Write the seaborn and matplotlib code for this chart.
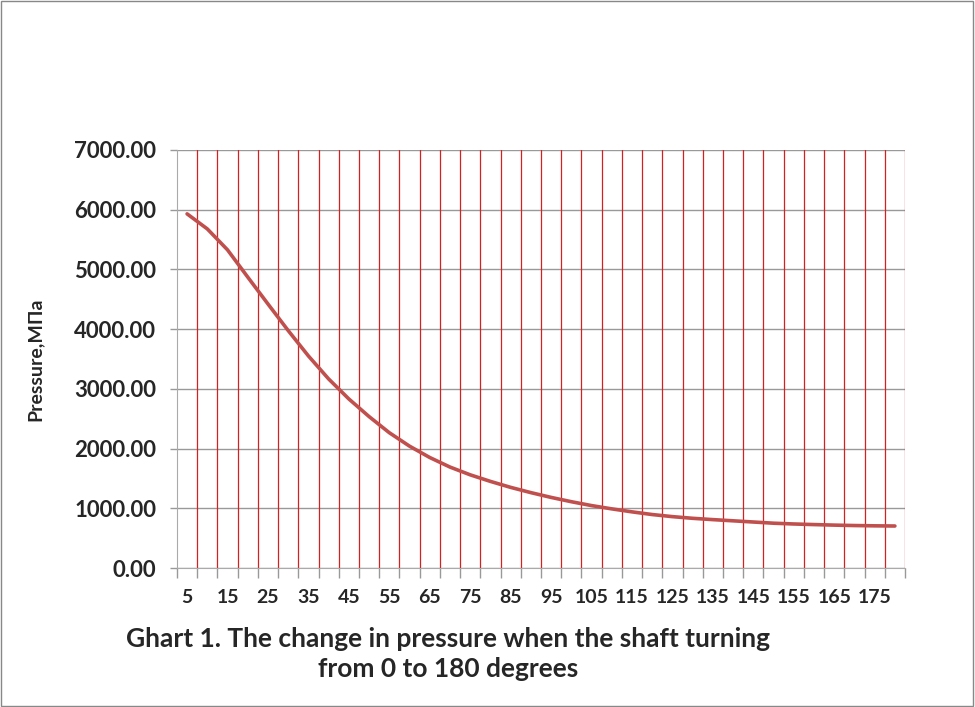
import numpy as np
import pandas as pd
import matplotlib
matplotlib.use("Agg")
import matplotlib.pyplot as plt
import seaborn as sns
from matplotlib.ticker import FixedLocator, FuncFormatter

# shaft angle, degrees
angles = list(range(5, 185, 5))
# pressure, MPa
pressure = [5929, 5677, 5326, 4870, 4420, 3975, 3550, 3165, 2830, 2535,
            2265, 2040, 1850, 1690, 1560, 1450, 1350, 1262, 1182, 1110,
            1045, 990, 940, 895, 860, 832, 810, 790, 770, 750,
            737, 727, 718, 711, 706, 703]
y_ticks = [0, 1000, 2000, 3000, 4000, 5000, 6000, 7000]

df = pd.DataFrame({"angle": [str(a) for a in angles], "pressure": pressure})

sns.set_style("white")
plt.rcParams["font.family"] = ["Lato", "DejaVu Sans"]
plt.rcParams["font.weight"] = "bold"

fig = plt.figure(figsize=(9.75, 7.07), dpi=100)
ax = fig.add_axes([0.1815, 0.1966, 0.7467, 0.5914])

sns.lineplot(data=df, x="angle", y="pressure", ax=ax, color="#C0504D",
             linewidth=2.6, sort=False, zorder=5,
             solid_joinstyle="round", solid_capstyle="round")

n = len(angles)
ax.set_xlim(-0.5, n - 0.5)
ax.set_ylim(0, 7000)

# category boundaries -> red vertical grid + grey tick marks
bounds = np.arange(n + 1) - 0.5
ax.xaxis.set_minor_locator(FixedLocator(bounds))
ax.xaxis.set_major_locator(FixedLocator(np.arange(0, n, 2)))
ax.set_xticklabels([str(a) for a in angles[::2]])
ax.tick_params(axis="x", which="major", length=0, pad=15, labelsize=14)
ax.tick_params(axis="x", which="minor", length=7, color="#999999", width=1,
               bottom=True)
for b in bounds[1:]:
    ax.axvline(b, color="#D42020", linewidth=0.9, zorder=1)

ax.set_yticks(y_ticks)
ax.yaxis.set_major_formatter(FuncFormatter(lambda v, p: f"{v:.2f}"))
ax.tick_params(axis="y", length=5, color="#999999", width=1, left=True,
               pad=10, labelsize=16)
ax.grid(axis="y", color="#999999", linewidth=1, zorder=0)
ax.grid(axis="x", visible=False)

for s in ["top", "right"]:
    ax.spines[s].set_visible(False)
ax.spines["left"].set_color("#aaaaaa")
ax.spines["bottom"].set_color("#aaaaaa")

ax.set_xlabel("")
ax.set_ylabel("Pressure,МПа", fontsize=14, fontweight="bold", labelpad=22)

fig.text(448 / 975, 1 - 654 / 707,
         "Ghart 1. The change in pressure when the shaft turning\nfrom 0 to 180 degrees",
         ha="center", va="center", fontsize=19, fontweight="bold",
         linespacing=1.3)

# chart-area border
fig.patches.append(plt.Rectangle((0.001, 0.001), 0.997, 0.997,
                                 transform=fig.transFigure, fill=False,
                                 edgecolor="#888888", linewidth=1))

fig.savefig("out.png", dpi=100)
